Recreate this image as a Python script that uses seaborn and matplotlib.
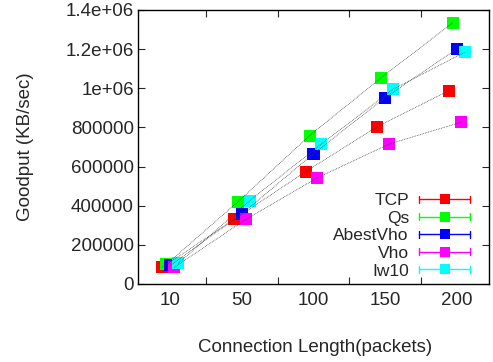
import matplotlib
matplotlib.use("Agg")
import matplotlib.pyplot as plt
import seaborn as sns
import pandas as pd
import numpy as np
from matplotlib.lines import Line2D
from matplotlib.legend_handler import HandlerBase

categories = ["10", "50", "100", "150", "200"]
series = ["TCP", "Qs", "AbestVho", "Vho", "Iw10"]
tcp = [85000, 330000, 574000, 804000, 988000]
qs = [100000, 420000, 758000, 1054000, 1335000]
abestvho = [95000, 358000, 666000, 952000, 1201000]
vho = [85000, 330000, 543000, 715000, 826000]
iw10 = [105000, 426000, 715000, 995000, 1184000]
ytick_values = [0, 200000, 400000, 600000, 800000, 1000000, 1200000, 1400000]
ytick_labels = ["0", "200000", "400000", "600000", "800000", "1e+06", "1.2e+06", "1.4e+06"]
colors = ["#ff0000", "#00ff00", "#0000ff", "#ff00ff", "#00ffff"]
offsets = [-0.11, -0.055, 0.0, 0.055, 0.11]

sns.set_style("white")
plt.rcParams["font.family"] = ["Liberation Sans", "DejaVu Sans"]

fig = plt.figure(figsize=(4.93, 3.62), dpi=100)
ax = fig.add_axes([138/493, 1-284/362, 351/493, 274/362])

values = [tcp, qs, abestvho, vho, iw10]
rows = []
for s, vals, off in zip(series, values, offsets):
    for i, v in enumerate(vals):
        rows.append({"series": s, "pos": i + off, "value": v})
df = pd.DataFrame(rows)

sns.scatterplot(data=df, x="pos", y="value", hue="series", hue_order=series,
                palette=colors, marker="s", s=75, linewidth=0, ax=ax,
                legend=False, zorder=2)
for s in series:
    sub = df[df["series"] == s]
    ax.plot(sub["pos"], sub["value"], color="#3a3a3a", lw=0.55,
            linestyle=(0, (1, 1.2)), zorder=3)

ax.set_xlim(-0.45, 4.45)
ax.set_ylim(0, 1400000)
ax.set_xticks(range(len(categories)))
ax.set_xticklabels(categories)
ax.set_xticks([0.5, 1.5, 2.5, 3.5], minor=True)
ax.set_yticks(ytick_values)
ax.set_yticklabels(ytick_labels)
ax.tick_params(axis="x", which="major", length=0, pad=6, labelsize=13.5)
ax.tick_params(axis="x", which="minor", direction="in", length=5, width=0.8,
               top=True, bottom=True)
ax.tick_params(axis="y", which="major", direction="in", length=5, width=0.8,
               left=True, right=True, pad=3, labelsize=13.5)
for sp in ax.spines.values():
    sp.set_color("black")
    sp.set_linewidth(1.0)

ax.set_xlabel("Connection Length(packets)", fontsize=13.5)
ax.set_ylabel("Goodput (KB/sec)", fontsize=13.5)
ax.xaxis.set_label_coords(0.504, -0.2)
ax.yaxis.set_label_coords(-0.296, 0.5)


class CapHandler(HandlerBase):
    def create_artists(self, legend, orig, xd, yd, w, h, fs, trans):
        c = orig.get_color()
        y = h / 2 - yd
        x0, x1 = -xd, w - xd
        line = Line2D([x0, x1], [y, y], color=c, lw=1.0, transform=trans)
        cap0 = Line2D([x0, x0], [y - 2.5, y + 2.5], color=c, lw=1.0, transform=trans)
        cap1 = Line2D([x1, x1], [y - 2.5, y + 2.5], color=c, lw=1.0, transform=trans)
        mk = Line2D([(x0 + x1) / 2], [y], color=c, marker="s", markersize=7.6,
                    markeredgewidth=0, linestyle="none", transform=trans)
        return [line, cap0, cap1, mk]


handles = [Line2D([0], [0], color=c) for c in colors]
leg = ax.legend(handles, series, handler_map={Line2D: CapHandler()},
                loc="lower right", bbox_to_anchor=(0.945, 0.02), borderaxespad=0,
                frameon=False, markerfirst=False, fontsize=12.5,
                handlelength=2.9, handletextpad=0.6, labelspacing=0.14,
                borderpad=0, alignment="right")

fig.savefig("out.png", dpi=100)
